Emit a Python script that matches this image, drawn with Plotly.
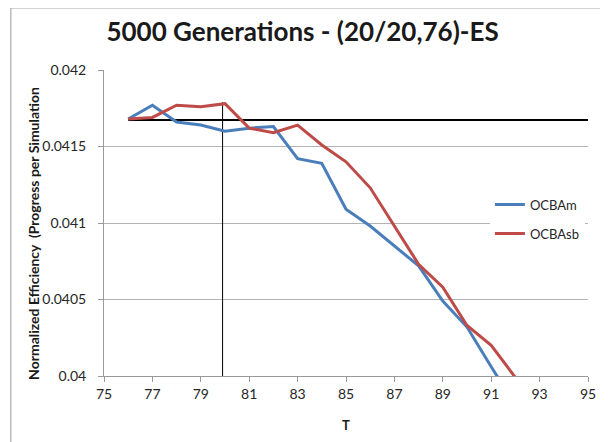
import plotly.graph_objects as go

T = [76, 77, 78, 79, 80, 81, 82, 83, 84, 85, 86, 87, 88, 89, 90, 91, 92]
ocbam = [0.04168, 0.04177, 0.04166, 0.04164, 0.04160, 0.04162, 0.04163, 0.04142, 0.04139,
         0.04109, 0.04098, 0.04085, 0.04072, 0.04049, 0.04032, 0.04006, 0.03981]
ocbasb = [0.04168, 0.04169, 0.04177, 0.04176, 0.04178, 0.04162, 0.04159, 0.04164, 0.04151,
          0.04140, 0.04123, 0.04098, 0.04073, 0.04058, 0.04033, 0.04020, 0.03999]

ref_h_x = [76, 95]
ref_h_y = [0.041674, 0.041674]
ref_v_x = [79.9, 79.9]
ref_v_y = [0.04, 0.04179]

y_tick_vals = [0.04, 0.0405, 0.041, 0.0415, 0.042]
y_tick_text = ["0.04", "0.0405", "0.041", "0.0415", "0.042"]
x_tick_vals = [75, 77, 79, 81, 83, 85, 87, 89, 91, 93, 95]

OFF = 8  # page body margin
W, H = 608 - OFF, 442 - OFF
L, R, TOP, B = 103.7 - OFF, 590.7 - OFF, 70.0 - OFF, 375.7 - OFF
pw, ph = R - L, B - TOP

def px(x):
    return (x - OFF - L) / pw

def py(y):
    return (B - (y - OFF)) / ph

FONT = "Lato, Open Sans, sans-serif"

fig = go.Figure()
fig.add_trace(go.Scatter(x=ref_h_x, y=ref_h_y, mode="lines",
                         line=dict(color="black", width=2), showlegend=False, hoverinfo="skip"))
fig.add_trace(go.Scatter(x=ref_v_x, y=ref_v_y, mode="lines",
                         line=dict(color="black", width=1), showlegend=False, hoverinfo="skip"))
fig.add_trace(go.Scatter(x=T, y=ocbam, mode="lines", name="OCBAm", legendgroup="a",
                         line=dict(color="#4A7EBB", width=3)))
fig.add_trace(go.Scatter(x=T, y=ocbasb, mode="lines", name="OCBAsb", legendgroup="b",
                         line=dict(color="#BE4B48", width=3)))

fig.update_layout(
    width=W, height=H,
    margin=dict(l=L, r=W - R, t=TOP, b=H - B, pad=0),
    paper_bgcolor="white", plot_bgcolor="white",
    font=dict(family=FONT, size=13, color="#262626"),
    showlegend=True,
    legend=dict(x=px(492), y=py(219), xanchor="left", yanchor="middle",
                bgcolor="white", borderwidth=0, tracegroupgap=9,
                font=dict(family=FONT, size=13, color="#262626")),
    title=dict(text="<b>5000 Generations - (20/20,76)-ES</b>",
               x=px(303.5), xref="paper", xanchor="center",
               y=1 - (32 - OFF) / H, yref="container", yanchor="middle",
               font=dict(family=FONT, size=26, color="#1a1a1a")),
    xaxis=dict(range=[75, 95], tickvals=x_tick_vals, showgrid=False, zeroline=False,
               showline=True, linecolor="#999999", linewidth=1,
               ticks="outside", ticklen=5, tickcolor="#999999",
               tickfont=dict(family=FONT, size=14, color="#262626")),
    yaxis=dict(range=[0.04, 0.042], tickvals=y_tick_vals, ticktext=y_tick_text,
               showgrid=True, gridcolor="#B3B3B3", gridwidth=1, zeroline=False,
               showline=True, linecolor="#999999", linewidth=1,
               ticks="outside", ticklen=5, tickcolor="#999999", ticklabelstandoff=9,
               tickfont=dict(family=FONT, size=14, color="#262626")),
    annotations=[
        dict(text="<b>Normalized Efficiency  (Progress per Simulation</b>",
             x=px(32), y=py(233), xref="paper", yref="paper", textangle=-90,
             showarrow=False, xanchor="center", yanchor="middle",
             font=dict(family=FONT, size=14, color="#1a1a1a")),
        dict(text="<b>T</b>", x=px(347), y=py(425), xref="paper", yref="paper",
             showarrow=False, xanchor="center", yanchor="middle",
             font=dict(family=FONT, size=13, color="#1a1a1a")),
    ],
    shapes=[dict(type="rect", xref="paper", yref="paper",
                 x0=px(10), x1=px(700), y0=py(600), y1=py(8),
                 line=dict(color="#999999", width=1), fillcolor="rgba(0,0,0,0)", layer="below")],
)

fig.write_html("out.html")
